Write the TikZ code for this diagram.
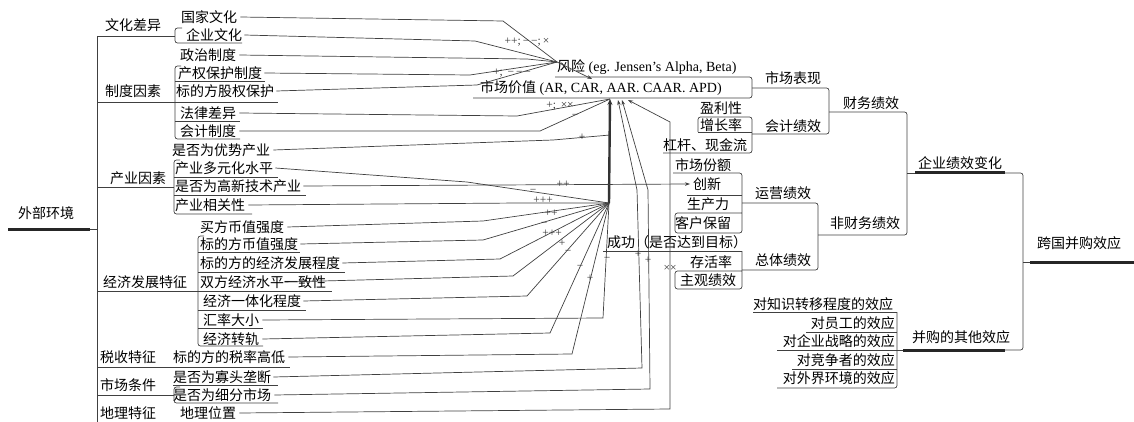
\documentclass[tikz,border=0pt]{standalone}
\usepackage{fontspec}
\setmainfont{Liberation Serif}
\newfontfamily\cjk{Noto Sans CJK SC}
\newfontfamily\lat{Liberation Serif}
\usetikzlibrary{arrows.meta}
\tikzset{
 tx/.style={inner sep=0pt, anchor=west, font=\fontsize{14}{16}\selectfont\cjk},
 txe/.style={tx, anchor=east},
 ln/.style={draw=black!75, line width=0.7pt},
 br/.style={ln, rounded corners=2.5pt},
 hub/.style={draw=black!85, line width=3pt},
 bundle/.style={draw=black!80, line width=2.4pt},
 lb/.style={inner sep=0pt, font=\fontsize{11.5}{11.5}\selectfont\lat, text=black!80},
 arr/.style={ln, -{Stealth[length=5pt,width=3.5pt]}},
}
\begin{document}
\begin{tikzpicture}[x=1pt,y=-1pt]
\useasboundingbox (0,0) rectangle (1134,422);
% ---------- left texts
\node[tx] (wbhj) at (18,213) {外部环境};
\node[tx] (whcy) at (105,25) {文化差异};
\node[tx] (zdys) at (105,91) {制度因素};
\node[tx] (cyys) at (110,178) {产业因素};
\node[tx] (jjfz) at (103,282) {经济发展特征};
\node[tx] (sstz) at (100,357) {税收特征};
\node[tx] (sctj) at (100,385) {市场条件};
\node[tx] (dltz) at (100,413) {地理特征};
\node[tx] (gjwh) at (181,17) {国家文化};
\node[tx] (qywh) at (186,35) {企业文化};
\node[tx] (zzzd) at (180,55) {政治制度};
\node[tx] (cqbh) at (178,73) {产权保护制度};
\node[tx] (gqbh) at (176,91) {标的方股权保护};
\node[tx] (flcy) at (180,113) {法律差异};
\node[tx] (kjzd) at (180,131) {会计制度};
\node[tx] (yscy) at (172,150) {是否为优势产业};
\node[tx] (dyh) at (175,168) {产业多元化水平};
\node[tx] (gxjs) at (175,186) {是否为高新技术产业};
\node[tx] (xgx) at (175,205) {产业相关性};
\node[tx] (mfbz) at (200,227) {买方币值强度};
\node[tx] (bdbz) at (200,244) {标的方币值强度};
\node[tx] (bdjj) at (200,263) {标的方的经济发展程度};
\node[tx] (sfjj) at (200,282) {双方经济水平一致性};
\node[tx] (jjyt) at (203,301) {经济一体化程度};
\node[tx] (hldx) at (203,320) {汇率大小};
\node[tx] (jjzg) at (203,339) {经济转轨};
\node[tx] (slgd) at (173,357) {标的方的税率高低};
\node[tx] (gtld) at (173,377) {是否为寡头垄断};
\node[tx] (xfsc) at (173,395) {是否为细分市场};
\node[tx] (dlwz) at (180,413) {地理位置};
% ---------- left structure
\draw[hub] (8,229) -- (90,229);
\draw[ln] (90,229) -- (97,229);
\draw[ln] (97,36) -- (97,422);
\draw[ln] (97,36) -- (175,36);
\draw[br] (182,28) -- (175,28) -- (175,43) -- (242,43);
\draw[br] (181,66) -- (175,66) -- (175,139) -- (240,139);
\draw[ln] (175,81) -- (265,81);
\draw[ln] (97,102) -- (278,102);
\draw[ln] (175,121) -- (240,121);
\draw[ln] (97,187) -- (174,187);
\draw[br] (180,160) -- (174,160) -- (174,214) -- (252,214);
\draw[ln] (174,177) -- (278,177);
\draw[ln] (174,195) -- (306,195);
\draw[br] (204,236) -- (198,236) -- (198,346) -- (263,346);
\draw[ln] (198,252) -- (300,252);
\draw[ln] (198,272) -- (345,272);
\draw[ln] (97,291) -- (332,291);
\draw[ln] (198,310) -- (306,310);
\draw[ln] (198,328) -- (263,328);
\draw[ln] (97,367) -- (290,367);
\draw[ln] (173,385) -- (278,385);
\draw[ln] (97,395) -- (174,395);
\draw[br] (180,387) -- (174,387) -- (174,403) -- (278,403);
% ---------- hubs
\coordinate (A) at (557,62);
\coordinate (B) at (610,99);
\coordinate (C) at (609,203);
\coordinate (Ahead) at (592,79);
% ---------- right texts
\node[tx] (fx) at (557,67) {风险{\lat\ (eg. Jensen’s Alpha, Beta)}};
\node[tx] (scjz) at (480,88) {市场价值{\lat\ (AR, CAR, AAR. CAAR. APD)}};
\node[tx] (scbx) at (765,78) {市场表现};
\node[tx] (ylx) at (700,108) {盈利性};
\node[tx] (zzl) at (700,125) {增长率};
\node[tx] (ggxj) at (663,145) {杠杆、现金流};
\node[tx] (kjjx) at (765,126) {会计绩效};
\node[tx] (cwjx) at (843,103) {财务绩效};
\node[tx] (scfe) at (675,165) {市场份额};
\node[tx] (cx) at (693,184) {创新};
\node[tx] (scl) at (687,204) {生产力};
\node[tx] (khbl) at (675,223) {客户保留};
\node[tx] (yyjx) at (755,193) {运营绩效};
\node[tx] (cg) at (607,242) {成功（是否达到目标）};
\node[tx] (chl) at (690,262) {存活率};
\node[tx] (zgjx) at (680,280) {主观绩效};
\node[tx] (ztjx) at (755,260) {总体绩效};
\node[tx] (fcwjx) at (830,223) {非财务绩效};
\node[tx] (qyjx) at (918,163) {企业绩效变化};
\node[tx] (kgbg) at (1037,243) {跨国并购效应};
\node[tx] (bgqt) at (912,337) {并购的其他效应};
\node[tx] (zszy) at (753,304) {对知识转移程度的效应};
\node[txe] (ygxy) at (895,323) {对员工的效应};
\node[txe] (qyzl) at (895,341) {对企业战略的效应};
\node[txe] (jzz) at (895,360) {对竞争者的效应};
\node[txe] (wjhj) at (895,378) {对外界环境的效应};
% ---------- right structure
\draw[br] (555,77) -- (752,77) -- (752,98) -- (473,98);
\draw[br] (752,88) -- (829,88) -- (829,134) -- (752,134);
\draw[br] (698,132) -- (698,117) -- (752,117) -- (752,153) -- (663,153);
\draw[ln] (698,132) -- (752,132);
\draw[br] (829,112) -- (907,112) -- (907,235) -- (818,235);
\draw[br] (673,173) -- (742,173) -- (742,233) -- (675,233) -- (675,213) -- (742,213);
\draw[ln] (687,195) -- (742,195);
\draw[br] (742,203) -- (818,203) -- (818,270) -- (742,270);
\draw[ln] (603,251) -- (742,251);
\draw[br] (742,251) -- (742,289) -- (675,289) -- (675,271) -- (742,271);
\draw[ln] (907,173) -- (915,173);
\draw[hub] (915,173) -- (1005,173);
\draw[br] (1005,173) -- (1023,173) -- (1023,350) -- (1005,350);
\draw[hub] (903,350) -- (1005,350);
\draw[ln] (1023,262) -- (1030,262);
\draw[hub] (1030,262) -- (1134,262);
\draw[ln] (753,312) -- (897,312);
\draw[br] (897,312) -- (897,388) -- (777,388);
\draw[ln] (806,332) -- (897,332);
\draw[ln] (777,350) -- (903,350);
\draw[ln] (792,369) -- (897,369);
% ---------- connectors to A
\draw[ln] ([xshift=3pt]gjwh.east) -- (503,21) -- (A);
\draw[ln] ([xshift=2pt]qywh.east) -- (475,41) -- (A);
\draw[ln] ([xshift=3pt]zzzd.east) -- (527,59) -- (A);
\draw[ln] ([xshift=2pt]cqbh.east) -- (470,75) -- (A);
\draw[ln] ([xshift=2pt]gqbh.east) -- (477,85) -- (A);
\draw[arr] (A) -- (Ahead);
% ---------- connectors to B
\draw[ln] ([xshift=3pt]flcy.east) -- (517,116) -- (B);
\draw[ln] ([xshift=3pt]kjzd.east) -- (540,131) -- (B);
\draw[ln] ([xshift=3pt]yscy.east) -- (553,140) -- (610,135);
\draw[bundle, -{Stealth[length=6pt,width=5pt]}] (C) -- (B);
% ---------- connectors to C
\draw[ln] ([xshift=2pt]dyh.east) -- (467,182) -- (C);
\draw[arr] ([xshift=2pt]gxjs.east) -- ([xshift=-3pt]cx.west);
\draw[ln] ([xshift=3pt]xgx.east) -- (520,203) -- (C);
\draw[ln] ([xshift=3pt]mfbz.east) -- (483,221) -- (C);
\draw[ln] ([xshift=2pt]bdbz.east) -- (483,240) -- (C);
\draw[ln] ([xshift=2pt]bdjj.east) -- (500,259) -- (C);
\draw[ln] ([xshift=-42pt]sfjj.east) -- (513,276) -- (C);
\draw[ln] ([xshift=2pt]jjyt.east) -- (527,296) -- (C);
\draw[ln] ([xshift=3pt]hldx.east) -- (603,318) -- (C);
\draw[ln] ([xshift=3pt]jjzg.east) -- (550,333) -- (C);
\draw[ln] ([xshift=3pt]slgd.east) -- (572,354) -- (C);
% ---------- long verticals to B
\draw[arr] ([xshift=2pt]gtld.east) -- (642,368) -- (637,190) -- (618,100);
\draw[arr] ([xshift=3pt]xfsc.east) -- (650,389) -- (648,190) -- (622,100);
\draw[arr] ([xshift=3pt]dlwz.east) -- (670,409) -- (670,122) -- (628,100);
% ---------- sign labels
\node[lb] (l1) at (527,42) {++;\,−\,−;\,×};
\node[lb] (l2) at (512,73) {+;\, −\,−\,−};
\node[lb] (l3) at (560,106) {+;\, ××};
\node[lb] (l4) at (575,116) {−};
\node[lb] (l5) at (582,137) {+};
\node[lb] (l6) at (563,184) {++};
\node[lb] (l7) at (533,191) {−};
\node[lb] (l8) at (543,200) {+++};
\node[lb] (l9) at (551,213) {++};
\node[lb] (l10) at (544,224) {−};
\node[lb] (l11) at (552,233) {+++};
\node[lb] (l12) at (562,243) {+};
\node[lb] (l13) at (568,252) {−};
\node[lb] (l14) at (580,267) {−};
\node[lb] (l15) at (590,278) {+};
\node[lb] (l16) at (607,259) {−};
\node[lb] (l17) at (638,254) {+};
\node[lb] (l18) at (648,260) {+};
\node[lb] (l19) at (670,268) {××};
\end{tikzpicture}
\end{document}
